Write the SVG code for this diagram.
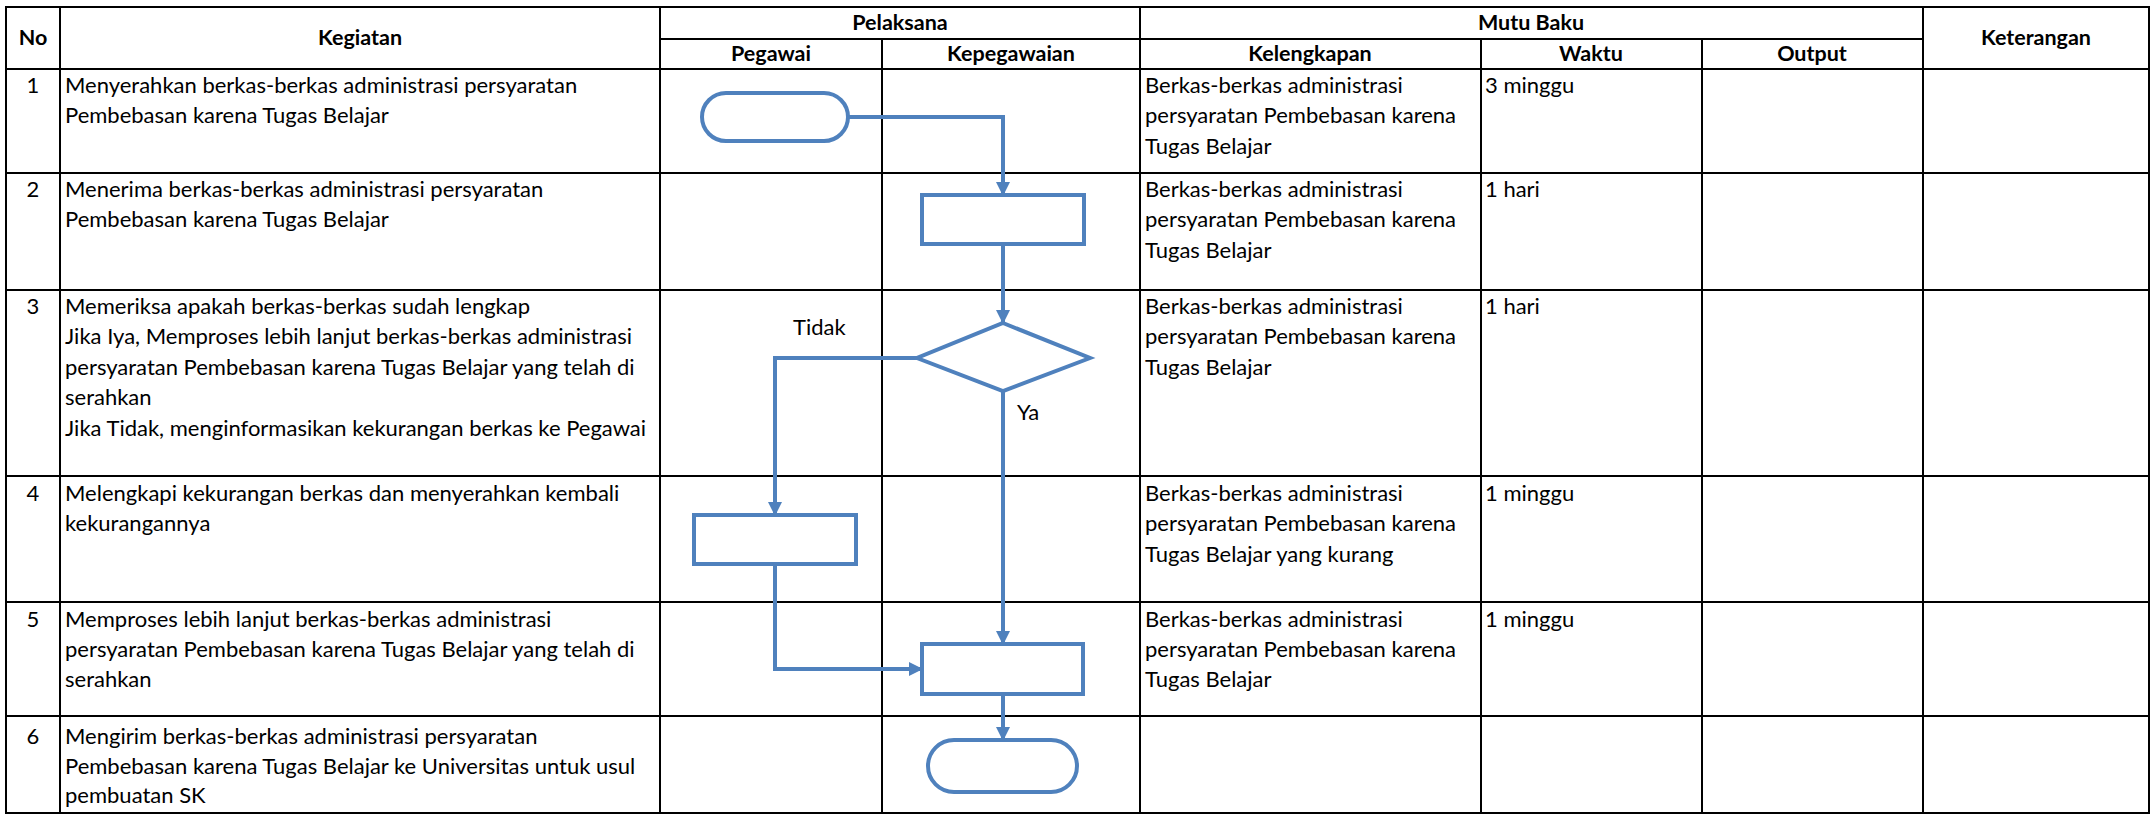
<svg xmlns="http://www.w3.org/2000/svg" width="2154" height="814" viewBox="0 0 2154 814">
<style>
text{font-family:Lato,"Noto Sans","Liberation Sans",sans-serif;font-size:22px;fill:#000}
.h{font-weight:bold;text-anchor:middle;font-size:21.5px}
.n{text-anchor:middle}
.g{stroke:#000;stroke-width:2;fill:none}
.s{stroke:#4F81BD;stroke-width:4;fill:#fff}
.c{stroke:#4F81BD;stroke-width:4;fill:none;stroke-linejoin:miter}
</style>
<defs>
<marker id="ah" viewBox="0 0 14 14" markerWidth="14" markerHeight="14" refX="13" refY="7" orient="auto" markerUnits="userSpaceOnUse">
<path d="M0,0 L14,7 L0,14 z" fill="#4F81BD"/>
</marker>
</defs>
<rect width="2154" height="814" fill="#fff"/>
<g id="grid" class="g">
<rect x="6" y="7" width="2143" height="806"/>
<path d="M6 69H2149 M6 173H2149 M6 290H2149 M6 476H2149 M6 602H2149 M6 716H2149"/>
<path d="M660 39H1923"/>
<path d="M60 7V813 M660 7V813 M1140 7V813 M1923 7V813"/>
<path d="M882 39V813 M1481 39V813 M1702 39V813"/>
</g>
<g id="header">
<text class="h" x="33" y="45">No</text>
<text class="h" x="360" y="45">Kegiatan</text>
<text class="h" x="900" y="30">Pelaksana</text>
<text class="h" x="771" y="61">Pegawai</text>
<text class="h" x="1011" y="61">Kepegawaian</text>
<text class="h" x="1531" y="30">Mutu Baku</text>
<text class="h" x="1310" y="61">Kelengkapan</text>
<text class="h" x="1591" y="61">Waktu</text>
<text class="h" x="1812" y="61">Output</text>
<text class="h" x="2036" y="45">Keterangan</text>
</g>
<g id="row1">
<text class="n" x="33" y="93">1</text>
<text x="65" y="93">Menyerahkan berkas-berkas administrasi persyaratan</text>
<text x="65" y="123">Pembebasan karena Tugas Belajar</text>
<text x="1145" y="93">Berkas-berkas administrasi</text>
<text x="1145" y="123">persyaratan Pembebasan karena</text>
<text x="1145" y="154">Tugas Belajar</text>
<text x="1485" y="93">3 minggu</text>
</g>
<g id="row2">
<text class="n" x="33" y="197">2</text>
<text x="65" y="197">Menerima berkas-berkas administrasi persyaratan</text>
<text x="65" y="227">Pembebasan karena Tugas Belajar</text>
<text x="1145" y="197">Berkas-berkas administrasi</text>
<text x="1145" y="227">persyaratan Pembebasan karena</text>
<text x="1145" y="258">Tugas Belajar</text>
<text x="1485" y="197">1 hari</text>
</g>
<g id="row3">
<text class="n" x="33" y="314">3</text>
<text x="65" y="314">Memeriksa apakah berkas-berkas sudah lengkap</text>
<text x="65" y="344">Jika Iya, Memproses lebih lanjut berkas-berkas administrasi</text>
<text x="65" y="375">persyaratan Pembebasan karena Tugas Belajar yang telah di</text>
<text x="65" y="405">serahkan</text>
<text x="65" y="436">Jika Tidak, menginformasikan kekurangan berkas ke Pegawai</text>
<text x="1145" y="314">Berkas-berkas administrasi</text>
<text x="1145" y="344">persyaratan Pembebasan karena</text>
<text x="1145" y="375">Tugas Belajar</text>
<text x="1485" y="314">1 hari</text>
</g>
<g id="row4">
<text class="n" x="33" y="501">4</text>
<text x="65" y="501">Melengkapi kekurangan berkas dan menyerahkan kembali</text>
<text x="65" y="531">kekurangannya</text>
<text x="1145" y="501">Berkas-berkas administrasi</text>
<text x="1145" y="531">persyaratan Pembebasan karena</text>
<text x="1145" y="562">Tugas Belajar yang kurang</text>
<text x="1485" y="501">1 minggu</text>
</g>
<g id="row5">
<text class="n" x="33" y="627">5</text>
<text x="65" y="627">Memproses lebih lanjut berkas-berkas administrasi</text>
<text x="65" y="657">persyaratan Pembebasan karena Tugas Belajar yang telah di</text>
<text x="65" y="687">serahkan</text>
<text x="1145" y="627">Berkas-berkas administrasi</text>
<text x="1145" y="657">persyaratan Pembebasan karena</text>
<text x="1145" y="687">Tugas Belajar</text>
<text x="1485" y="627">1 minggu</text>
</g>
<g id="row6">
<text class="n" x="33" y="744">6</text>
<text x="65" y="744">Mengirim berkas-berkas administrasi persyaratan</text>
<text x="65" y="774">Pembebasan karena Tugas Belajar ke Universitas untuk usul</text>
<text x="65" y="803">pembuatan SK</text>
</g>
<g id="connectors">
<path class="c" d="M848 117H1003V195" marker-end="url(#ah)"/>
<path class="c" d="M1003 244V323" marker-end="url(#ah)"/>
<path class="c" d="M917 358H775V515" marker-end="url(#ah)"/>
<path class="c" d="M1003 391V644" marker-end="url(#ah)"/>
<path class="c" d="M775 564V669H922" marker-end="url(#ah)"/>
<path class="c" d="M1003 694V740" marker-end="url(#ah)"/>
<text x="793" y="335">Tidak</text>
<text x="1017" y="420">Ya</text>
</g>
<g id="start"><rect class="s" x="702" y="93" width="146" height="48" rx="24"/></g>
<g id="terima"><rect class="s" x="922" y="195" width="162" height="49"/></g>
<g id="periksa"><path class="s" d="M1003 323L1090 358L1003 391L917 358Z"/></g>
<g id="lengkapi"><rect class="s" x="694" y="515" width="162" height="49"/></g>
<g id="proses"><rect class="s" x="922" y="644" width="161" height="50"/></g>
<g id="end"><rect class="s" x="928" y="740" width="149" height="52" rx="26"/></g>
</svg>
